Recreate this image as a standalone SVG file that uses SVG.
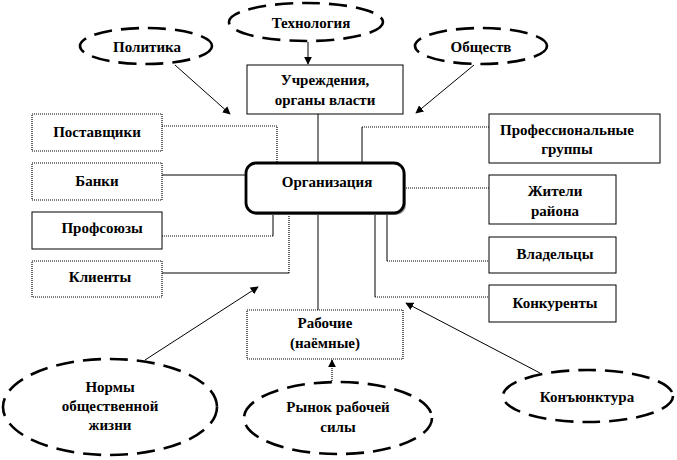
<svg xmlns="http://www.w3.org/2000/svg" width="677" height="460" viewBox="0 0 677 460">
<style>
.t{font-family:'Liberation Serif','DejaVu Serif',serif;font-weight:700;font-size:15px;fill:#000;text-anchor:middle}
.ell{fill:#fff;stroke:#000;stroke-width:2.6;stroke-dasharray:18 9}
.box{fill:#fff;stroke:#000;stroke-width:1}
.dbox{fill:#fff;stroke:#000;stroke-width:1.2;stroke-dasharray:1 1}
.ln{fill:none;stroke:#000;stroke-width:1}
.dl{fill:none;stroke:#000;stroke-width:1.2;stroke-dasharray:1 1}
</style>
<defs>
<marker id="ah" viewBox="0 0 10 10" refX="9" refY="5" markerWidth="8" markerHeight="8" markerUnits="userSpaceOnUse" orient="auto">
<path d="M0,0 L10,5 L0,10 z" fill="#000"/>
</marker>
</defs>
<rect width="677" height="460" fill="#fff"/>
<g id="connectors">
<path class="ln" d="M308,42 V64" marker-end="url(#ah)"/>
<path class="ln" d="M175,65 L230,114" marker-end="url(#ah)"/>
<path class="ln" d="M474,65 L416,113" marker-end="url(#ah)"/>
<path class="ln" d="M318,114 V163"/>
<path class="dl" d="M162,126 H277 V163"/>
<path class="ln" d="M162,175 H246"/>
<path class="dl" d="M162,236 H273"/>
<path class="ln" d="M273,236 V213"/>
<path class="ln" d="M162,273 H289"/>
<path class="dl" d="M289,273 V213"/>
<path class="ln" d="M318,213 V310"/>
<path class="ln" d="M145,360 L258,287" marker-end="url(#ah)"/>
<path class="dl" d="M332,383 V360" marker-end="url(#ah)"/>
<path class="ln" d="M540,373 L406,303" marker-end="url(#ah)"/>
<path class="dl" d="M489,127 H362"/>
<path class="ln" d="M362,127 V163"/>
<path class="dl" d="M404,188 H489"/>
<path class="ln" d="M387,213 V261"/>
<path class="dl" d="M387,261 H489"/>
<path class="ln" d="M375,213 V297"/>
<path class="dl" d="M375,297 H489"/>
</g>
<g id="tekhnologiya"><ellipse class="ell" cx="306" cy="22" rx="77" ry="19"/><text class="t" x="311" y="28">Технология</text></g>
<g id="politika"><ellipse class="ell" cx="146" cy="46" rx="66" ry="18"/><text class="t" x="147" y="52">Политика</text></g>
<g id="obshchestv"><ellipse class="ell" cx="481" cy="46" rx="66" ry="18"/><text class="t" x="481" y="52">Обществ</text></g>
<g id="uchrezhdeniya"><rect class="box" x="247" y="65" width="156" height="49"/><text class="t" x="325" y="85">Учреждения,</text><text class="t" x="325" y="105">органы власти</text></g>
<g id="postavshchiki"><rect class="dbox" x="32" y="114" width="130" height="37"/><text class="t" x="97" y="137">Поставщики</text></g>
<g id="banki"><rect class="dbox" x="32" y="163" width="130" height="37"/><text class="t" x="97" y="186">Банки</text></g>
<g id="profsoyuzy"><rect class="box" x="32" y="212" width="130" height="37"/><text class="t" x="102" y="233">Профсоюзы</text></g>
<g id="klienty"><rect class="dbox" x="32" y="261" width="130" height="36"/><text class="t" x="100" y="282">Клиенты</text></g>
<g id="organizatsiya"><rect x="248" y="165" width="158" height="50" rx="10" fill="#999"/><rect x="246" y="163" width="158" height="50" rx="10" fill="#fff" stroke="#000" stroke-width="2.8"/><text class="t" x="327" y="187">Организация</text></g>
<g id="prof-gruppy"><rect class="box" x="489" y="114" width="171" height="49"/><text class="t" x="567" y="135">Профессиональные</text><text class="t" x="567" y="154">группы</text></g>
<g id="zhiteli"><rect class="box" x="489" y="175" width="127" height="49"/><text class="t" x="555" y="196">Жители</text><text class="t" x="555" y="216">района</text></g>
<g id="vladeltsy"><rect class="box" x="489" y="237" width="127" height="36"/><text class="t" x="555" y="259">Владельцы</text></g>
<g id="konkurenty"><rect class="box" x="489" y="285" width="127" height="37"/><text class="t" x="555" y="308">Конкуренты</text></g>
<g id="rabochie"><rect class="dbox" x="247" y="310" width="156" height="49"/><text class="t" x="325" y="328">Рабочие</text><text class="t" x="325" y="348">(наёмные)</text></g>
<g id="normy"><ellipse class="ell" cx="110" cy="407" rx="107" ry="48"/><text class="t" x="110" y="392">Нормы</text><text class="t" x="110" y="411">общественной</text><text class="t" x="110" y="430">жизни</text></g>
<g id="rynok"><ellipse class="ell" cx="338" cy="418" rx="94" ry="36"/><text class="t" x="338" y="412">Рынок рабочей</text><text class="t" x="338" y="432">силы</text></g>
<g id="konyunktura"><ellipse class="ell" cx="588" cy="396" rx="85" ry="26"/><text class="t" x="587" y="402">Конъюнктура</text></g>
</svg>
